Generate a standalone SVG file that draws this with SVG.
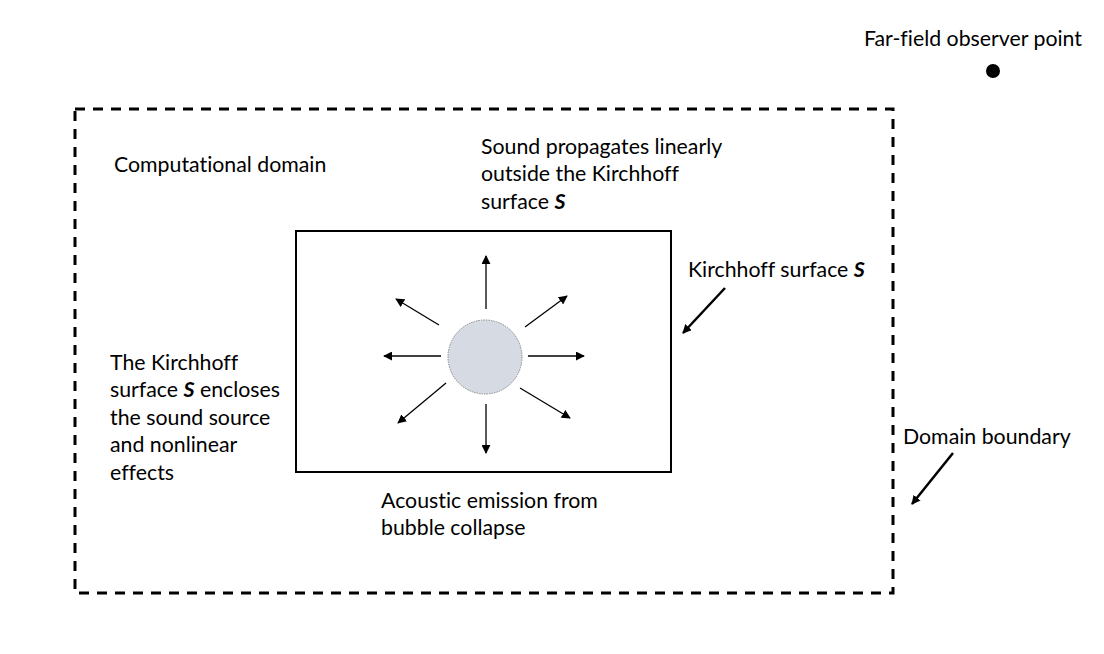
<svg xmlns="http://www.w3.org/2000/svg" width="1104" height="654" viewBox="0 0 1104 654">
<defs>
<marker id="ah2" viewBox="0 0 10 10" refX="9" refY="5" markerWidth="9" markerHeight="9" orient="auto" markerUnits="userSpaceOnUse">
<path d="M0,0 L10,5 L0,10 z" fill="#000"/>
</marker>
<style>
text{font-family:Lato,"Liberation Sans",sans-serif;font-size:21.3px;fill:#000;font-variant-ligatures:none}
.ray{stroke:#000;stroke-width:1.3;fill:none;marker-end:url(#ah2)}
.ptr{stroke:#000;stroke-width:2.5;fill:none;marker-end:url(#ah2)}
</style>
</defs>
<rect width="1104" height="654" fill="#fff"/>
<g id="domain">
<rect x="75" y="109" width="818" height="484" fill="none" stroke="#000" stroke-width="3" stroke-dasharray="10,8"/>
</g>
<g id="kirchhoff-surface">
<rect x="296" y="231" width="375" height="241" fill="none" stroke="#000" stroke-width="2"/>
</g>
<g id="bubble">
<circle cx="485" cy="357" r="37" fill="#d6dae3" stroke="#888" stroke-width="1" stroke-dasharray="1.5,1"/>
</g>
<g id="observer">
<circle cx="993" cy="71" r="7" fill="#000"/>
<text x="864" y="46">Far-field observer point</text>
</g>
<g id="connectors">
<line class="ray" x1="486" y1="309" x2="486" y2="256"/>
<line class="ray" x1="525" y1="327" x2="567" y2="296"/>
<line class="ray" x1="528" y1="356" x2="584" y2="356"/>
<line class="ray" x1="520" y1="388" x2="570" y2="418"/>
<line class="ray" x1="486" y1="404" x2="486" y2="453"/>
<line class="ray" x1="446" y1="383" x2="398" y2="423"/>
<line class="ray" x1="441" y1="356" x2="384" y2="356"/>
<line class="ray" x1="439" y1="325" x2="396" y2="299"/>
<line class="ptr" x1="725" y1="288" x2="683" y2="333"/>
<line class="ptr" x1="953" y1="453" x2="912" y2="504"/>
</g>
<g id="labels">
<text x="114" y="172">Computational domain</text>
<text x="481" y="154">Sound propagates linearly</text>
<text x="481" y="181">outside the Kirchhoff</text>
<text x="481" y="209">surface <tspan font-weight="bold" font-style="italic">S</tspan></text>
<text x="688" y="277">Kirchhoff surface <tspan font-weight="bold" font-style="italic">S</tspan></text>
<text x="110" y="370">The Kirchhoff</text>
<text x="110" y="397">surface <tspan font-weight="bold" font-style="italic">S</tspan> encloses</text>
<text x="110" y="425">the sound source</text>
<text x="110" y="452">and nonlinear</text>
<text x="110" y="480">effects</text>
<text x="381" y="508">Acoustic emission from</text>
<text x="381" y="535">bubble collapse</text>
<text x="903" y="444">Domain boundary</text>
</g>
</svg>
